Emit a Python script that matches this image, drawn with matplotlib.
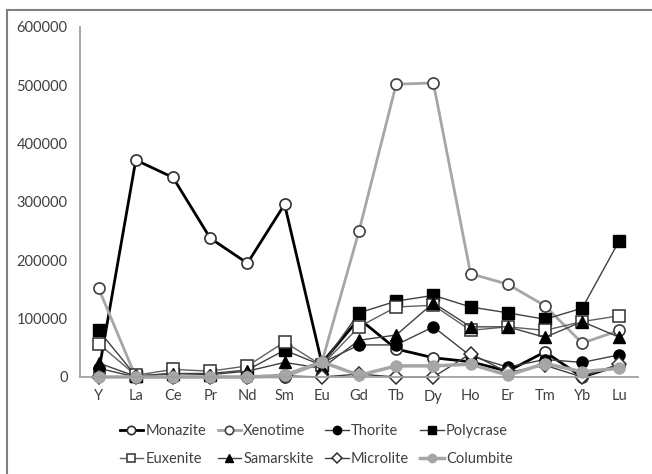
import numpy as np
import matplotlib
matplotlib.use('Agg')
import matplotlib.pyplot as plt
from matplotlib.lines import Line2D

plt.rcParams['font.family'] = ['Lato', 'DejaVu Sans']

# --- DATA ---
elements = ['Y', 'La', 'Ce', 'Pr', 'Nd', 'Sm', 'Eu', 'Gd', 'Tb', 'Dy', 'Ho', 'Er', 'Tm', 'Yb', 'Lu']

monazite   = [8000, 372000, 342000, 238000, 195000, 296000, 24000, 100000, 48000, 33000, 26000, 10000, 43000, 0, 20000]
xenotime   = [152000, 0, 0, 0, 0, 0, 25000, 250000, 502000, 504000, 177000, 159000, 122000, 58000, 80000]
thorite    = [15000, 0, 0, 0, 0, 3000, 24000, 55000, 55000, 86000, 36000, 17000, 30000, 25000, 38000]
polycrase  = [80000, 2000, 6000, 6000, 12000, 46000, 20000, 110000, 130000, 140000, 120000, 110000, 99000, 118000, 234000]
euxenite   = [57000, 3000, 13000, 10000, 19000, 60000, 20000, 86000, 120000, 123000, 80000, 86000, 80000, 95000, 105000]
samarskite = [24000, 1000, 6000, 4000, 10000, 25000, 15000, 63000, 72000, 127000, 86000, 86000, 68000, 95000, 68000]
microlite  = [0, 0, 0, 0, 0, 2000, 0, 5000, 0, 0, 40000, 8000, 20000, 0, 22000]
columbite  = [0, 0, 0, 0, 0, 3000, 26000, 3000, 19000, 19000, 22000, 3000, 23000, 9000, 15000]

grey = '#a6a6a6'
txt = '#404040'

fig = plt.figure(figsize=(6.52, 4.74), dpi=100)
ax = fig.add_axes([80/652, 1-377/474, 558/652, 350/474])

x = np.arange(len(elements))

# series in Excel order (later ones on top)
series = [
    ('Monazite',   monazite,   dict(color='black', lw=2.0, marker='o', mfc='white', mec='#303030', ms=8, mew=1.2)),
    ('Xenotime',   xenotime,   dict(color=grey, lw=2.0, marker='o', mfc='white', mec='#404040', ms=8, mew=1.2)),
    ('Thorite',    thorite,    dict(color='#404040', lw=1.0, marker='o', mfc='black', mec='black', ms=8)),
    ('Polycrase',  polycrase,  dict(color='#404040', lw=1.0, marker='s', mfc='black', mec='black', ms=8)),
    ('Euxenite',   euxenite,   dict(color='#606060', lw=1.0, marker='s', mfc='white', mec='#303030', ms=8, mew=1.1)),
    ('Samarskite', samarskite, dict(color='#404040', lw=1.0, marker='^', mfc='black', mec='black', ms=8)),
    ('Microlite',  microlite,  dict(color='#404040', lw=1.0, marker='D', mfc='white', mec='#303030', ms=7, mew=1.1)),
    ('Columbite',  columbite,  dict(color=grey, lw=2.5, marker='o', mfc=grey, mec=grey, ms=8)),
]

lines = {}
for name, vals, style in series:
    ln, = ax.plot(x, vals, label=name, clip_on=False, **style)
    lines[name] = ln

ax.set_xlim(-0.5, 14.5)
ax.set_ylim(0, 600000)
ax.set_yticks(np.arange(0, 600001, 100000))
ax.set_xticks(x)
ax.set_xticklabels(elements)
ax.tick_params(length=0, labelsize=10.5, colors=txt, pad=9)

for s in ['top', 'right']:
    ax.spines[s].set_visible(False)
for s in ['left', 'bottom']:
    ax.spines[s].set_color('#a0a0a0')
    ax.spines[s].set_linewidth(1.3)

# legend: two rows of four, column-major order for ncol=4
order = ['Monazite', 'Euxenite', 'Xenotime', 'Samarskite', 'Thorite', 'Microlite', 'Polycrase', 'Columbite']
leg = fig.legend([lines[n] for n in order], order, ncol=4, loc='center',
                 bbox_to_anchor=(0.485, 1-445/474), frameon=False, fontsize=10.5,
                 handlelength=1.6, handletextpad=0.15, columnspacing=0.8, labelspacing=0.95,
                 markerscale=0.75, labelcolor=txt)

# outer chart border (top and left visible)
fig.add_artist(Line2D([7/652, 1], [1-10/474, 1-10/474], transform=fig.transFigure, color='#808080', lw=1.5))
fig.add_artist(Line2D([7/652, 7/652], [0, 1-10/474], transform=fig.transFigure, color='#808080', lw=1.5))

fig.savefig('out.png', dpi=100)
